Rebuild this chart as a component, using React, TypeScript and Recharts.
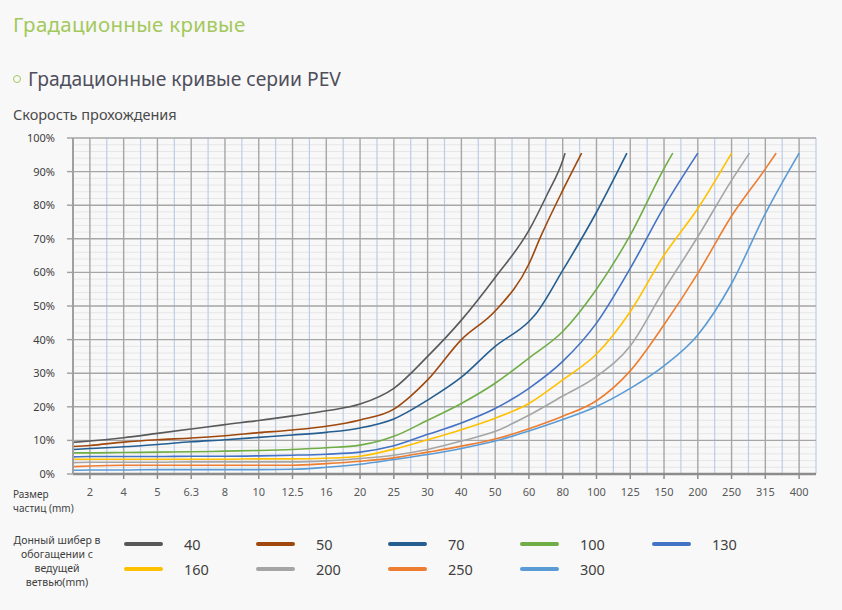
import { LineChart, Line, XAxis, YAxis, CartesianGrid } from 'recharts';

// particle size categories along the bottom axis (mm)
const sizes = ['2', '4', '5', '6.3', '8', '10', '12.5', '16', '20', '25', '30', '40', '50', '60', '80', '100', '125', '150', '200', '250', '315', '400'];
const sizeTicks = sizes.map((_, i) => i);
const pctTicks = [0, 10, 20, 30, 40, 50, 60, 70, 80, 90, 100];
const minorPct = [2, 4, 6, 8, 12, 14, 16, 18, 22, 24, 26, 28, 32, 34, 36, 38, 42, 44, 46, 48, 52, 54, 56, 58, 62, 64, 66, 68, 72, 74, 76, 78, 82, 84, 86, 88, 92, 94, 96, 98];
const betweenSizes = [0.5, 1.5, 2.5, 3.5, 4.5, 5.5, 6.5, 7.5, 8.5, 9.5, 10.5, 11.5, 12.5, 13.5, 14.5, 15.5, 16.5, 17.5, 18.5, 19.5, 20.5, 21.5];
const xDomain: [number, number] = [-0.5, 21.5];
const yDomain: [number, number] = [0, 100];

// [position on size axis, passing %]
const curve40: [number, number][] = [[-0.5, 9.4], [0, 9.8], [1, 10.8], [2, 12.1], [3, 13.4], [4, 14.7], [5, 15.9], [6, 17.3], [7, 18.8], [8, 20.8], [9, 25.5], [10, 35], [11, 45.8], [12, 58.5], [13, 72.5], [13.55, 83.4], [14, 93.3], [14.07, 95.5]];
const curve50: [number, number][] = [[-0.5, 8.2], [0, 8.5], [1, 9.5], [2, 10.2], [3, 10.7], [4, 11.4], [5, 12.3], [6, 13.1], [7, 14.2], [8, 16.1], [9, 19.3], [9.5, 23.2], [10, 28], [11, 40], [12, 48.5], [13, 62.5], [13.35, 70.7], [14, 84.4], [14.56, 95.5]];
const curve70: [number, number][] = [[-0.5, 7.3], [0, 7.6], [1, 8.1], [2, 8.8], [3, 9.6], [4, 10.2], [5, 10.9], [6, 11.6], [7, 12.4], [8, 13.7], [9, 16.4], [10, 22], [11, 28.8], [12, 38], [13, 45.4], [13.15, 47], [14, 60.6], [15, 77.9], [15.9, 95.5]];
const curve100: [number, number][] = [[-0.5, 6.3], [0, 6.3], [1, 6.4], [2, 6.5], [3, 6.6], [4, 6.8], [5, 7.0], [6, 7.3], [7, 7.8], [8, 8.6], [8.6, 9.9], [9, 11.2], [10, 16], [11, 21], [12, 27], [13, 34.5], [14, 42.4], [15, 55], [16, 71.1], [17, 90.9], [17.26, 95.5]];
const curve130: [number, number][] = [[-0.5, 5.1], [0, 5.2], [1, 5.2], [2, 5.2], [3, 5.3], [4, 5.3], [5, 5.4], [6, 5.6], [7, 5.9], [8, 6.5], [9, 8.4], [10, 11.8], [11, 15.2], [12, 19.5], [13, 25.5], [14, 33.5], [15, 44.9], [16, 61.2], [17, 79.5], [18, 95.5]];
const curve160: [number, number][] = [[-0.5, 4.4], [0, 4.4], [1, 4.4], [2, 4.4], [3, 4.4], [4, 4.4], [5, 4.5], [6, 4.5], [7, 4.7], [8, 5.3], [9, 7.4], [10, 10.2], [11, 13.2], [12, 16.6], [13, 21], [14, 28], [15, 35.7], [16, 48.3], [17, 65.1], [18, 79], [19, 95.5]];
const curve200: [number, number][] = [[-0.5, 3.4], [0, 3.5], [1, 3.5], [2, 3.5], [3, 3.6], [4, 3.6], [5, 3.6], [6, 3.6], [7, 3.9], [8, 4.6], [9, 5.6], [10, 7.3], [11, 9.8], [12, 12.7], [13, 17.5], [14, 23.2], [15, 29], [16, 38.1], [17, 54.8], [18, 70.6], [19, 87.4], [19.53, 95.5]];
const curve250: [number, number][] = [[-0.5, 2.2], [0, 2.4], [1, 2.6], [2, 2.6], [3, 2.6], [4, 2.6], [5, 2.6], [6, 2.6], [7, 3.1], [8, 3.8], [9, 4.8], [10, 6.5], [11, 8.3], [12, 10.4], [13, 13.5], [14, 17.2], [15, 21.8], [16, 30.7], [17, 44.4], [18, 59.7], [19, 76.8], [20, 90.8], [20.32, 95.5]];
const curve300: [number, number][] = [[-0.5, 1.1], [0, 1.2], [1, 1.2], [2, 1.3], [3, 1.3], [4, 1.3], [5, 1.3], [6, 1.4], [7, 2.0], [8, 2.9], [9, 4.3], [10, 5.8], [11, 7.6], [12, 9.8], [13, 12.8], [14, 16.2], [15, 20.1], [16, 25.5], [17, 32.2], [18, 41.4], [19, 56.7], [20, 77.5], [21, 95.5]];

const seriesNames = ['40', '50', '70', '100', '130', '160', '200', '250', '300'];
const seriesColors = ['#595959', '#9e480e', '#255e91', '#70ad47', '#4472c4', '#ffc000', '#a5a5a5', '#ed7d31', '#5b9bd5'];
const curves = [curve40, curve50, curve70, curve100, curve130, curve160, curve200, curve250, curve300];

const sizeLabelLines = ['Размер', 'частиц (mm)'];
const legendTitleLines = ['Донный шибер в', 'обогащении с', 'ведущей', 'ветвью(mm)'];

const font = '"Noto Sans", sans-serif';

const toPoints = (c: [number, number][]) => c.map(([x, y]) => ({ x, y }));

// grid line positions: use the axis scale when it is callable, otherwise map through the plot offset
const xGrid = (values: number[]) => ({ xAxis, offset }: any) =>
  values.map((v) => {
    const s = xAxis && xAxis.scale;
    if (typeof s === 'function') return s(v);
    return offset.left + ((v - xDomain[0]) / (xDomain[1] - xDomain[0])) * offset.width;
  });
const yGrid = (values: number[]) => ({ yAxis, offset }: any) =>
  values.map((v) => {
    const s = yAxis && yAxis.scale;
    if (typeof s === 'function') return s(v);
    return offset.top + (1 - (v - yDomain[0]) / (yDomain[1] - yDomain[0])) * offset.height;
  });

export default function App() {
  return (
    <div style={{ position: 'absolute', left: 0, top: 0, width: 842, height: 610, background: '#f8f8f8', fontFamily: font, overflow: 'hidden' }}>
      <div style={{ position: 'absolute', left: 13, top: 10, fontSize: 20.5, color: '#a3c85c', letterSpacing: 0.3 }}>Градационные кривые</div>
      <div style={{ position: 'absolute', left: 13, top: 65, fontSize: 19.3, color: '#4f4f5c', display: 'flex', alignItems: 'center' }}>
        <span style={{ display: 'inline-block', width: 6, height: 6, borderRadius: '50%', border: '1.3px solid #a3c85c', marginRight: 7 }} />
        Градационные кривые серии PEV
      </div>
      <div style={{ position: 'absolute', left: 13, top: 104, fontSize: 14.5, color: '#4a4a4a' }}>Скорость прохождения</div>

      <div style={{ position: 'absolute', left: 0, top: 0 }}>
        <LineChart width={842} height={520} margin={{ top: 138, right: 26, left: 13, bottom: 16 }}>
          <CartesianGrid stroke="#e6e6e6" strokeWidth={1} vertical={false} horizontalCoordinatesGenerator={yGrid(minorPct)} />
          <CartesianGrid stroke="#bccde9" strokeWidth={1.2} horizontal={false} verticalCoordinatesGenerator={xGrid(betweenSizes)} />
          <CartesianGrid
            stroke="#a6a6a6"
            strokeWidth={1.4}
            horizontalCoordinatesGenerator={yGrid(pctTicks)}
            verticalCoordinatesGenerator={xGrid(sizeTicks)}
          />
          <XAxis
            type="number"
            dataKey="x"
            domain={xDomain}
            ticks={sizeTicks}
            interval={0}
            allowDataOverflow
            height={30}
            tickFormatter={(v: number) => sizes[v] ?? ''}
            axisLine={{ stroke: '#8c8c8c', strokeWidth: 2.5 }}
            tickLine={{ stroke: '#8c8c8c', strokeWidth: 1.5 }}
            tickSize={5}
            tickMargin={9}
            tick={{ fill: '#595959', fontSize: 11, fontFamily: font }}
          />
          <YAxis
            type="number"
            domain={yDomain}
            ticks={pctTicks}
            interval={0}
            width={60}
            tickFormatter={(v: number) => `${v}%`}
            axisLine={{ stroke: '#a0a0a0', strokeWidth: 2 }}
            tickLine={{ stroke: '#a0a0a0', strokeWidth: 1.4 }}
            tickSize={6}
            tickMargin={12}
            tick={{ fill: '#404040', fontSize: 11, fontFamily: font }}
          />
          {curves.map((c, i) => (
            <Line
              key={seriesNames[i]}
              data={toPoints(c)}
              dataKey="y"
              type="monotone"
              stroke={seriesColors[i]}
              strokeWidth={1.6}
              dot={false}
              activeDot={false}
              isAnimationActive={false}
              name={seriesNames[i]}
            />
          ))}
        </LineChart>
      </div>

      {sizeLabelLines.map((t, i) => (
        <div key={t} style={{ position: 'absolute', left: 13, top: 488 + i * 14, fontSize: 10, lineHeight: '12px', color: '#404040', whiteSpace: 'nowrap' }}>
          {t}
        </div>
      ))}

      {legendTitleLines.map((t, i) => (
        <div
          key={t}
          style={{ position: 'absolute', left: 7, top: 534 + i * 14, width: 100, fontSize: 10.5, lineHeight: '12px', color: '#404040', textAlign: 'center', whiteSpace: 'nowrap' }}
        >
          {t}
        </div>
      ))}
      {seriesNames.map((name, i) => {
        const col = i % 5;
        const row = Math.floor(i / 5);
        const left = 124 + col * 132;
        const top = 544 + row * 25;
        return (
          <div key={name}>
            <div style={{ position: 'absolute', left, top: top - 2, width: 39, height: 4, borderRadius: 2, background: seriesColors[i] }} />
            <div style={{ position: 'absolute', left: left + 60, top: top - 10, fontSize: 14.5, lineHeight: '20px', color: '#404040' }}>{name}</div>
          </div>
        );
      })}
    </div>
  );
}
